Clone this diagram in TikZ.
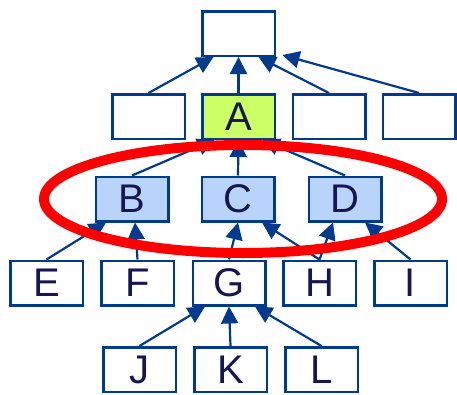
\documentclass[tikz,border=0pt]{standalone}
\usepackage{fontspec}
\setmainfont{Liberation Sans}
\usepackage{xcolor}
\usetikzlibrary{shapes.geometric, arrows.meta, positioning, calc}
\definecolor{boxblue}{RGB}{0,58,140}
\definecolor{textnavy}{RGB}{22,22,82}
\definecolor{limegreen}{RGB}{204,255,102}
\definecolor{paleblue}{RGB}{184,212,250}
\definecolor{ringred}{RGB}{255,0,0}

\begin{document}
\begin{tikzpicture}[
    x=1pt, y=-1pt,
    box/.style={rectangle, draw=boxblue, fill=#1, line width=2.5pt, inner sep=0pt,
                minimum width=72.5pt, minimum height=44.5pt, text=textnavy,
                font=\fontsize{40}{40}\selectfont},
    box/.default=white,
    flow/.style={line width=2.2pt, color=boxblue, -{Triangle[length=17pt, width=17pt]}}
]
\useasboundingbox (0,0) rectangle (457,394);
% top level
\node[box] (top) at (238.5,33.5) {};
% second level
\node[box] (p1) at (148.5,116.5) {};
\node[box=limegreen] (a) at (238.5,116.5) {A};
\node[box] (p3) at (329,116.5) {};
\node[box] (p4) at (419,116.5) {};
% children of A
\node[box=paleblue] (b) at (132,199) {B};
\node[box=paleblue] (c) at (238,199) {C};
\node[box=paleblue] (d) at (345,199) {D};
% fourth level
\node[box] (e) at (46.5,283) {E};
\node[box] (f) at (137.5,283) {F};
\node[box] (g) at (229,283) {G};
\node[box] (h) at (319.5,283) {H};
\node[box] (i) at (410.5,283) {I};
% bottom level
\node[box] (j) at (139.5,369.5) {J};
\node[box] (k) at (230.5,369.5) {K};
\node[box] (l) at (321.5,369.5) {L};

\draw[flow] (p1.north) -- ([xshift=-25pt]top.south);
\draw[flow] (a.north) -- (top.south);
\draw[flow] (p3.north) -- ([xshift=20pt]top.south);
\draw[flow] (p4.north) -- ([xshift=44pt,yshift=2pt]top.south);

\draw[flow] (b.north) -- ([xshift=-24pt]a.south);
\draw[flow] (c.north) -- (a.south);
\draw[flow] (d.north) -- ([xshift=24pt]a.south);

\draw[flow] (e.north) -- ([xshift=-26pt]b.south);
\draw[flow] (f.north) -- ([xshift=3pt]b.south);
\draw[flow] (g.north) -- (c.south);
\draw[flow] (h.north) -- ([xshift=24pt]c.south);
\draw[flow] (h.north) -- ([xshift=-12pt]d.south);
\draw[flow] (i.north) -- ([xshift=20pt]d.south);

\draw[flow] (j.north) -- ([xshift=-24pt]g.south);
\draw[flow] (k.north) -- (g.south);
\draw[flow] (l.north) -- ([xshift=26pt]g.south);

% highlight ring
\node[ellipse, draw=ringred, line width=10pt, minimum width=398pt, minimum height=108pt,
      inner sep=0pt] (ring) at (243,199) {};
\end{tikzpicture}
\end{document}
